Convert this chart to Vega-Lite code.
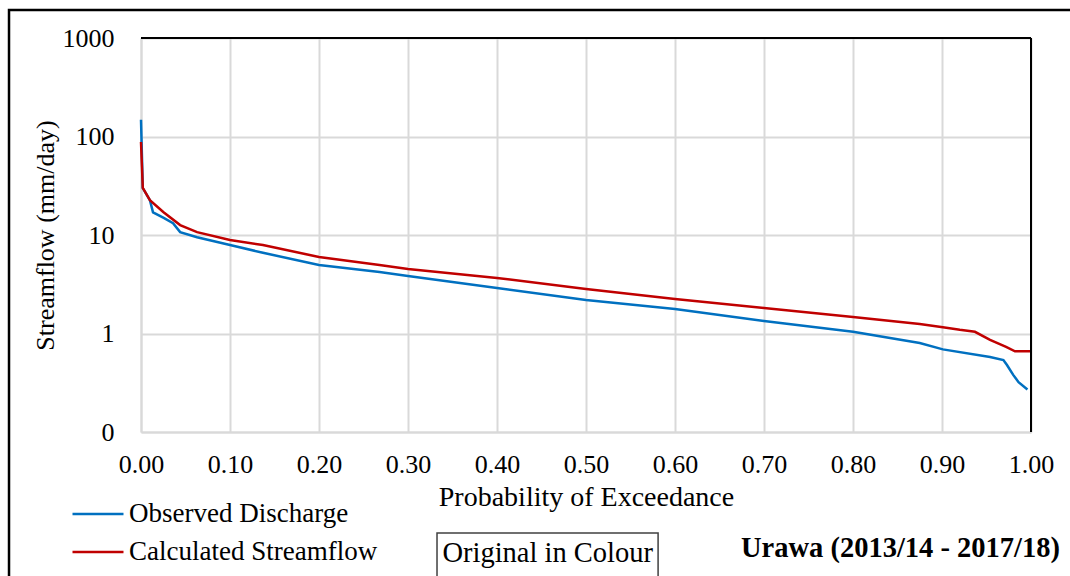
{
  "$schema": "https://vega.github.io/schema/vega-lite/v6.json",
  "width": 890,
  "height": 394,
  "autosize": "none",
  "padding": {"left": 141, "top": 38, "right": 39, "bottom": 144},
  "background": "white",
  "config": {
    "font": "Liberation Serif",
    "view": {"stroke": null},
    "axis": {
      "labelFont": "Liberation Serif",
      "titleFont": "Liberation Serif",
      "labelColor": "#000000",
      "titleColor": "#000000",
      "titleFontWeight": "normal",
      "labelFontSize": 26,
      "ticks": false,
      "domainColor": "#d9d9d9",
      "domainWidth": 2,
      "gridColor": "#d9d9d9",
      "gridWidth": 2
    },
    "legend": {
      "labelFont": "Liberation Serif",
      "labelFontSize": 27,
      "labelColor": "#000000",
      "labelLimit": 0
    }
  },
  "datasets": {
    "flow": [
      {"p": 0, "q": 148, "series": "Observed Discharge"},
      {"p": 0.002, "q": 30, "series": "Observed Discharge"},
      {"p": 0.006, "q": 26, "series": "Observed Discharge"},
      {"p": 0.01, "q": 22.6, "series": "Observed Discharge"},
      {"p": 0.0135, "q": 17, "series": "Observed Discharge"},
      {"p": 0.025, "q": 15, "series": "Observed Discharge"},
      {"p": 0.036, "q": 13.2, "series": "Observed Discharge"},
      {"p": 0.044, "q": 10.7, "series": "Observed Discharge"},
      {"p": 0.063, "q": 9.5, "series": "Observed Discharge"},
      {"p": 0.1, "q": 7.9, "series": "Observed Discharge"},
      {"p": 0.137, "q": 6.6, "series": "Observed Discharge"},
      {"p": 0.2, "q": 4.96, "series": "Observed Discharge"},
      {"p": 0.268, "q": 4.2, "series": "Observed Discharge"},
      {"p": 0.3, "q": 3.84, "series": "Observed Discharge"},
      {"p": 0.4, "q": 2.9, "series": "Observed Discharge"},
      {"p": 0.5, "q": 2.19, "series": "Observed Discharge"},
      {"p": 0.6, "q": 1.77, "series": "Observed Discharge"},
      {"p": 0.7, "q": 1.34, "series": "Observed Discharge"},
      {"p": 0.8, "q": 1.04, "series": "Observed Discharge"},
      {"p": 0.875, "q": 0.8, "series": "Observed Discharge"},
      {"p": 0.901, "q": 0.69, "series": "Observed Discharge"},
      {"p": 0.954, "q": 0.577, "series": "Observed Discharge"},
      {"p": 0.969, "q": 0.538, "series": "Observed Discharge"},
      {"p": 0.973, "q": 0.479, "series": "Observed Discharge"},
      {"p": 0.98, "q": 0.38, "series": "Observed Discharge"},
      {"p": 0.986, "q": 0.32, "series": "Observed Discharge"},
      {"p": 0.996, "q": 0.27, "series": "Observed Discharge"},
      {"p": 0, "q": 88, "series": "Calculated Streamflow"},
      {"p": 0.002, "q": 30, "series": "Calculated Streamflow"},
      {"p": 0.01, "q": 22.6, "series": "Calculated Streamflow"},
      {"p": 0.025, "q": 17.1, "series": "Calculated Streamflow"},
      {"p": 0.044, "q": 12.6, "series": "Calculated Streamflow"},
      {"p": 0.063, "q": 10.7, "series": "Calculated Streamflow"},
      {"p": 0.1, "q": 8.9, "series": "Calculated Streamflow"},
      {"p": 0.137, "q": 7.9, "series": "Calculated Streamflow"},
      {"p": 0.2, "q": 5.98, "series": "Calculated Streamflow"},
      {"p": 0.268, "q": 4.96, "series": "Calculated Streamflow"},
      {"p": 0.3, "q": 4.52, "series": "Calculated Streamflow"},
      {"p": 0.4, "q": 3.66, "series": "Calculated Streamflow"},
      {"p": 0.5, "q": 2.83, "series": "Calculated Streamflow"},
      {"p": 0.6, "q": 2.24, "series": "Calculated Streamflow"},
      {"p": 0.7, "q": 1.82, "series": "Calculated Streamflow"},
      {"p": 0.8, "q": 1.47, "series": "Calculated Streamflow"},
      {"p": 0.875, "q": 1.25, "series": "Calculated Streamflow"},
      {"p": 0.901, "q": 1.16, "series": "Calculated Streamflow"},
      {"p": 0.92, "q": 1.09, "series": "Calculated Streamflow"},
      {"p": 0.937, "q": 1.04, "series": "Calculated Streamflow"},
      {"p": 0.954, "q": 0.86, "series": "Calculated Streamflow"},
      {"p": 0.972, "q": 0.73, "series": "Calculated Streamflow"},
      {"p": 0.982, "q": 0.66, "series": "Calculated Streamflow"},
      {"p": 1.0, "q": 0.66, "series": "Calculated Streamflow"}
    ]
  },
  "layer": [
    {
      "data": {"name": "flow"},
      "mark": {"type": "line", "strokeWidth": 2.5, "interpolate": "linear"},
      "encoding": {
        "x": {
          "field": "p",
          "type": "quantitative",
          "scale": {"domain": [0, 1], "nice": false, "zero": false},
          "axis": {
            "title": "Probability of Exceedance",
            "titleFontSize": 28,
            "values": [0, 0.1, 0.2, 0.3, 0.4, 0.5, 0.6, 0.7, 0.8, 0.9, 1],
            "format": ".2f",
            "labelPadding": 19,
            "titlePadding": 6,
            "labelFlush": false
          }
        },
        "y": {
          "field": "q",
          "type": "quantitative",
          "scale": {"type": "log", "domain": [0.1, 1000], "nice": false},
          "axis": {
            "title": "Streamflow (mm/day)",
            "titleFontSize": 26,
            "values": [0.1, 1, 10, 100, 1000],
            "labelExpr": "datum.value < 0.5 ? '0' : format(datum.value, 'd')",
            "labelPadding": 27,
            "titlePadding": 4,
            "labelFlush": false
          }
        },
        "color": {
          "field": "series",
          "type": "nominal",
          "scale": {
            "domain": ["Observed Discharge", "Calculated Streamflow"],
            "range": ["#0070C0", "#C00000"]
          },
          "legend": {
            "title": null,
            "orient": "none",
            "legendX": -57,
            "legendY": 462,
            "padding": 0,
            "symbolType": "M-2,0H2",
            "symbolSize": 650,
            "symbolStrokeWidth": 2.5,
            "labelOffset": 17,
            "rowPadding": 11
          }
        }
      }
    },
    {
      "description": "outer frame around the figure",
      "data": {"values": [{"p": -0.1483, "p2": 1.06, "q": 1923, "q2": 0.002}]},
      "mark": {"type": "rect", "fill": null, "stroke": "#000000", "strokeWidth": 2.5},
      "encoding": {
        "x": {"field": "p", "type": "quantitative"},
        "x2": {"field": "p2"},
        "y": {"field": "q", "type": "quantitative"},
        "y2": {"field": "q2"}
      }
    },
    {
      "description": "top and right edges of the plot area",
      "data": {"values": [{"q": 1000}]},
      "mark": {"type": "rule", "color": "#000000", "strokeWidth": 2},
      "encoding": {"y": {"field": "q", "type": "quantitative"}}
    },
    {
      "data": {"values": [{"p": 1}]},
      "mark": {"type": "rule", "color": "#000000", "strokeWidth": 2},
      "encoding": {"x": {"field": "p", "type": "quantitative"}}
    },
    {
      "description": "boxed note below the axis",
      "data": {"values": [{"p": 0.3326, "p2": 0.581, "q": 0.00944, "q2": 0.002}]},
      "mark": {"type": "rect", "fill": null, "stroke": "#404040", "strokeWidth": 1.5},
      "encoding": {
        "x": {"field": "p", "type": "quantitative"},
        "x2": {"field": "p2"},
        "y": {"field": "q", "type": "quantitative"},
        "y2": {"field": "q2"}
      }
    },
    {
      "data": {"values": [{"p": 0.457, "q": 0.0059, "label": "Original in Colour"}]},
      "mark": {"type": "text", "font": "Liberation Serif", "fontSize": 28.5, "color": "#000000", "align": "center", "baseline": "middle"},
      "encoding": {
        "x": {"field": "p", "type": "quantitative"},
        "y": {"field": "q", "type": "quantitative"},
        "text": {"field": "label"}
      }
    },
    {
      "data": {"values": [{"p": 1.0326, "q": 0.0066, "label": "Urawa (2013/14 - 2017/18)"}]},
      "mark": {"type": "text", "font": "Liberation Serif", "fontSize": 28.5, "fontWeight": "bold", "color": "#000000", "align": "right", "baseline": "middle"},
      "encoding": {
        "x": {"field": "p", "type": "quantitative"},
        "y": {"field": "q", "type": "quantitative"},
        "text": {"field": "label"}
      }
    }
  ]
}
